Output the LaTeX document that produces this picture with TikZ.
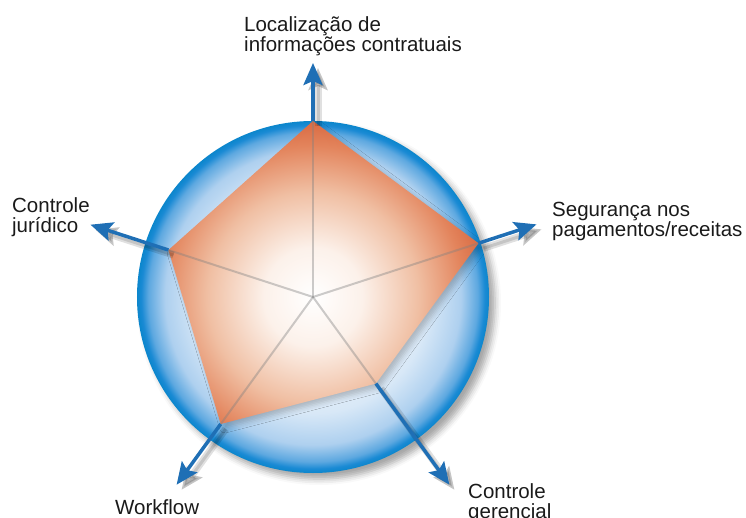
\documentclass[tikz,border=0pt]{standalone}
\usepackage{fontspec}
\setmainfont{Liberation Sans}
\usetikzlibrary{arrows.meta,shadows.blur}

\definecolor{ringblue}{HTML}{0B86CC}
\definecolor{discA}{HTML}{F4F8FD}
\definecolor{discB}{HTML}{D8E8F7}
\definecolor{discC}{HTML}{AED0EF}
\definecolor{discD}{HTML}{5DA8E0}
\definecolor{discE}{HTML}{1A8AD4}
\definecolor{pentA}{HTML}{FCF1EA}
\definecolor{pentB}{HTML}{F0BFA3}
\definecolor{pentC}{HTML}{E3845C}
\definecolor{pentD}{HTML}{D96A42}
\definecolor{axisblue}{HTML}{1F6FB5}
\definecolor{labelgray}{HTML}{1A1A1A}

\pgfdeclareradialshading{discshade}{\pgfpoint{0bp}{0bp}}{%
  color(0bp)=(white); color(8.5bp)=(discA); color(16.5bp)=(discB);
  color(21bp)=(discC); color(23.4bp)=(discD); color(24.4bp)=(discE);
  color(25bp)=(ringblue); color(50bp)=(ringblue)}
\pgfdeclareradialshading{pentshade}{\pgfpoint{0bp}{0bp}}{%
  color(0bp)=(white); color(7bp)=(pentA); color(15bp)=(pentB);
  color(21.5bp)=(pentC); color(25bp)=(pentD); color(50bp)=(pentD)}

\tikzset{
  axisarrow/.style={draw=axisblue, line width=3.5pt, -{Stealth[length=22pt,width=19pt,inset=4pt]}},
  arrowshade/.style={draw=black, opacity=0.12, line width=#1, -{Stealth[length=22pt,width=19pt,inset=4pt]},
    transform canvas={shift={(5pt,-5pt)}}},
  spoke/.style={draw=gray, line width=2pt, opacity=0.4},
  axislabel/.style={font=\fontsize{20.5}{20}\selectfont, text=labelgray, align=left, inner sep=0pt, anchor=north west}
}

\begin{document}
\begin{tikzpicture}[x=1pt,y=1pt]
    \useasboundingbox (-313,-220) rectangle (433,297);

    % Centre, vertices and arrow tips
    \coordinate (c) at (0,0);
    \coordinate (v1) at (90:176);
    \coordinate (v2) at (18:174);
    \coordinate (v3) at (-54:107);
    \coordinate (v4) at (234:157);
    \coordinate (v5) at (162:152);
    \coordinate (t1) at (90:234);
    \coordinate (t2) at (18:235);
    \coordinate (t3) at (-54:232);
    \coordinate (t4) at (234:232);
    \coordinate (t5) at (162:234);

    % Disc
    \shade[shading=discshade, blur shadow={shadow xshift=6pt, shadow yshift=-6pt, shadow blur radius=6pt, shadow opacity=35}]
        (c) circle (176);

    % Pentagon
    \path[blur shadow={shadow xshift=4pt, shadow yshift=-4pt, shadow blur radius=5pt, shadow opacity=22},
          path picture={\shade[shading=pentshade] (c) circle (176);}]
        (v1) -- (v2) -- (v3) -- (v4) -- (v5) -- cycle;

    % Spokes
    \draw[spoke] (c) -- (v1);
    \draw[spoke] (c) -- (v2);
    \draw[spoke] (c) -- (v3);
    \draw[spoke] (c) -- (v4);
    \draw[spoke] (c) -- (v5);

    % Arrow shadows
    \draw[arrowshade=7pt] (v1) -- (t1);
    \draw[arrowshade=7pt] (v2) -- (t2);
    \draw[arrowshade=7pt] (v3) -- (t3);
    \draw[arrowshade=7pt] (v4) -- (t4);
    \draw[arrowshade=7pt] (v5) -- (t5);
    \draw[arrowshade=3pt] (v1) -- (t1);
    \draw[arrowshade=3pt] (v2) -- (t2);
    \draw[arrowshade=3pt] (v3) -- (t3);
    \draw[arrowshade=3pt] (v4) -- (t4);
    \draw[arrowshade=3pt] (v5) -- (t5);

    % Arrows
    \draw[axisarrow] (v1) -- (t1);
    \draw[axisarrow] (v2) -- (t2);
    \draw[axisarrow] (v3) -- (t3);
    \draw[axisarrow] (v4) -- (t4);
    \draw[axisarrow] (v5) -- (t5);

    % Labels
    \node[axislabel] (lbloc) at (-69,281) {Localização de\\informações contratuais};
    \node[axislabel] (lbseg) at (239,95) {Segurança nos\\pagamentos/receitas};
    \node[axislabel] (lbger) at (155,-186) {Controle\\gerencial};
    \node[axislabel] (lbwork) at (-198,-202) {Workflow};
    \node[axislabel] (lbjur) at (-301,100) {Controle\\jurídico};
\end{tikzpicture}
\end{document}
